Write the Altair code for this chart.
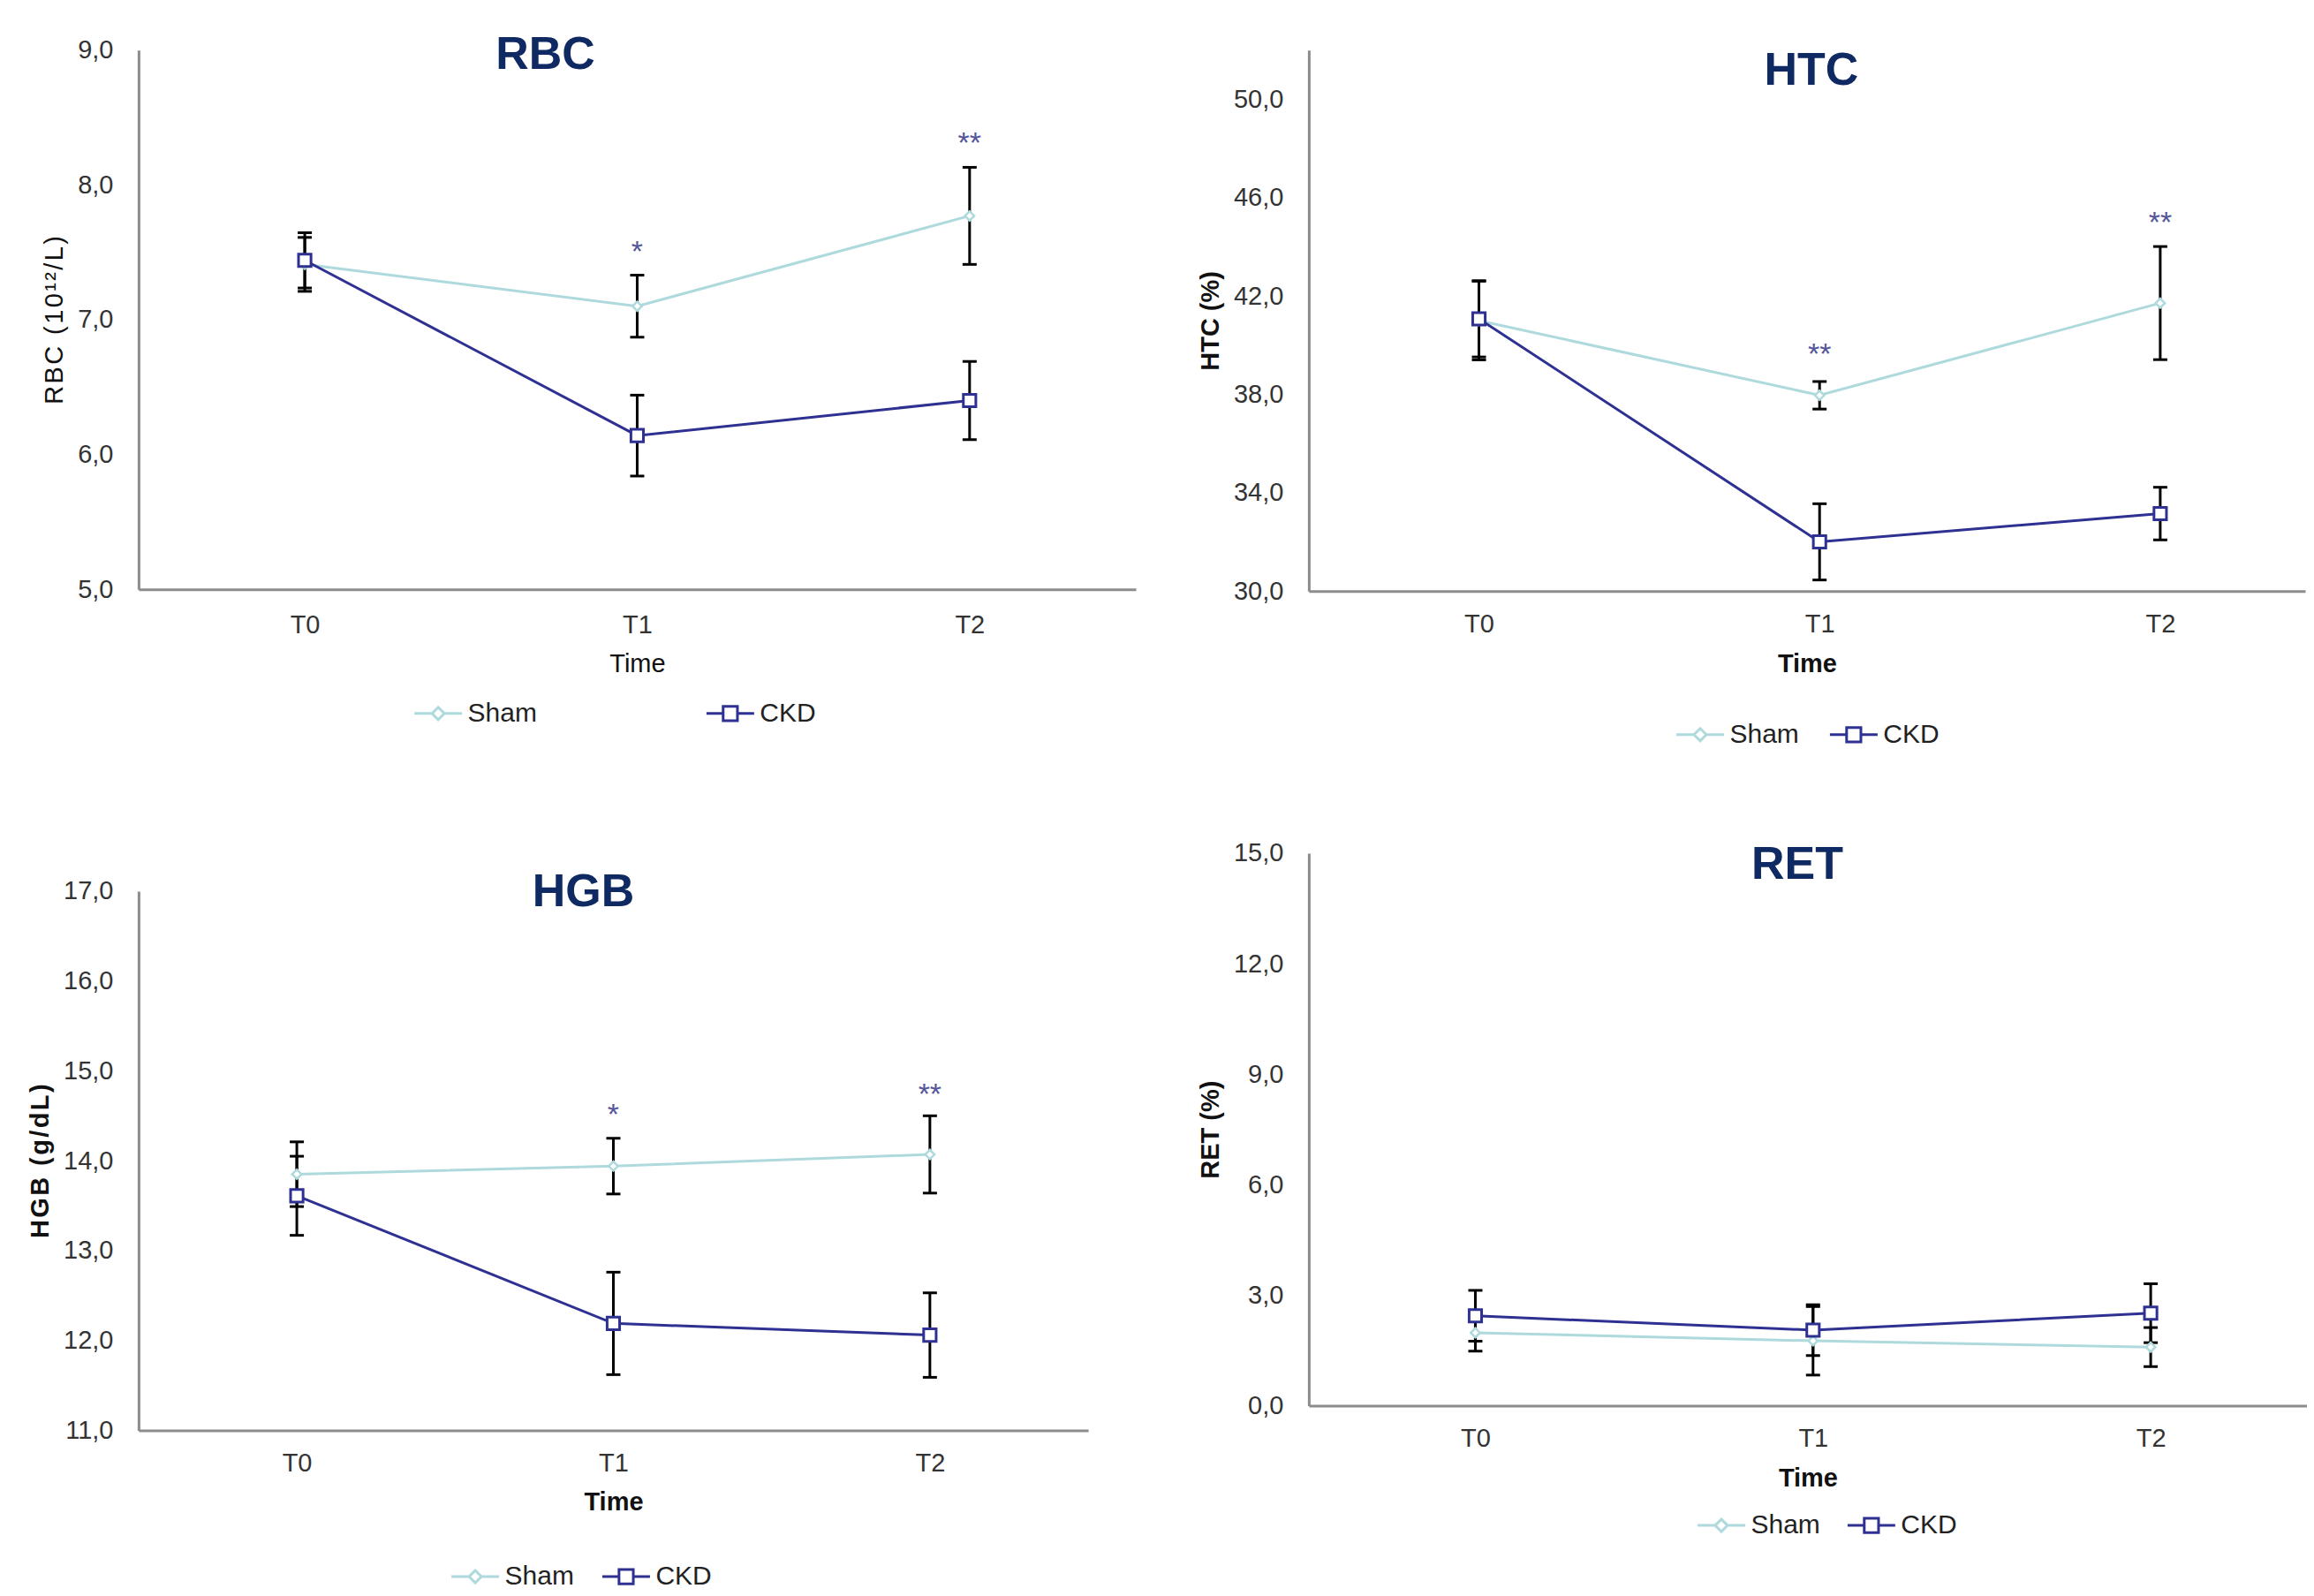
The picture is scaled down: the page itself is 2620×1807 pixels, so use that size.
import altair as alt
import pandas as pd

times = ["T0", "T1", "T2"]
groups = ["Sham", "CKD"]

rbc_sham = [7.41, 7.10, 7.77]
rbc_sham_err = [0.20, 0.23, 0.36]
rbc_ckd = [7.44, 6.14, 6.40]
rbc_ckd_err = [0.205, 0.30, 0.29]
rbc_stars = ["", "*", "**"]
rbc_star_y = [7.5, 7.50, 8.30]

htc_sham = [41.0, 37.96, 41.71]
htc_sham_err = [1.6, 0.56, 2.3]
htc_ckd = [41.07, 32.0, 33.15]
htc_ckd_err = [1.55, 1.55, 1.07]
htc_stars = ["", "**", "**"]
htc_star_y = [42.0, 39.6, 44.95]

hgb_sham = [13.85, 13.94, 14.07]
hgb_sham_err = [0.36, 0.31, 0.43]
hgb_ckd = [13.61, 12.19, 12.06]
hgb_ckd_err = [0.44, 0.57, 0.47]
hgb_stars = ["", "*", "**"]
hgb_star_y = [14.0, 14.50, 14.73]

ret_sham = [1.98, 1.76, 1.59]
ret_sham_err = [0.50, 0.93, 0.53]
ret_ckd = [2.44, 2.05, 2.51]
ret_ckd_err = [0.69, 0.69, 0.80]
ret_stars = ["", "", ""]
ret_star_y = [3.0, 3.0, 3.0]

SHAM_C = "#aedadd"
CKD_C = "#2e3192"
NAVY = "#0f2a62"
STAR_C = "#55559a"
FONT = "Liberation Sans"
HS = "\u200a"

SHAM_PATH = "M-1,0L-0.26,0M0.26,0L1,0M0,-0.26L0.26,0L0,0.26L-0.26,0Z"
CKD_PATH = "M-1,0L-0.3,0M0.3,0L1,0M-0.3,-0.3L0.3,-0.3L0.3,0.3L-0.3,0.3Z"


def spaced(s):
    return HS.join(list(s))


def panel(name, ytitle, sham, sham_err, ckd, ckd_err, stars, star_y,
          domain, ticks, width, height, pad, align, bold,
          title_dx, title_dy, leg_x, leg_y, leg_gap, xlab_pad, xtitle_pad):
    rows = []
    for g, vals, errs in (("Sham", sham, sham_err), ("CKD", ckd, ckd_err)):
        for t, v, e in zip(times, vals, errs):
            rows.append({"time": t, "group": g, "mean": v, "lo": v - e, "hi": v + e})
    df = pd.DataFrame(rows)
    sdf = pd.DataFrame({"time": times, "star": stars, "y": star_y})
    sdf = sdf[sdf["star"] != ""]

    weight = "bold" if bold else "normal"
    xscale = alt.Scale(type="point", domain=times, padding=pad, align=align)
    yscale = alt.Scale(domain=domain, nice=False, zero=False)
    xaxis = alt.Axis(title="Time", labelAngle=0, labelPadding=xlab_pad,
                     titlePadding=xtitle_pad, titleFontWeight=weight)
    yaxis = alt.Axis(title=ytitle, values=ticks, titleFontWeight=weight,
                     labelExpr="replace(format(datum.value, '.1f'), '.', ',')")
    legend = alt.Legend(
        title=None, orient="none", legendX=leg_x, legendY=leg_y,
        direction="horizontal", columnPadding=leg_gap, padding=0,
        symbolSize=2916, symbolStrokeWidth=3, labelOffset=5,
        symbolFillColor="white", symbolOpacity=1,
        labelFont=FONT, labelFontSize=30, labelColor="#222222",
    )
    cscale = alt.Scale(domain=groups, range=[SHAM_C, CKD_C])
    color = alt.Color("group:N", scale=cscale, legend=legend)
    x = alt.X("time:N", scale=xscale, axis=xaxis)
    base = alt.Chart(df)
    lines = base.mark_line(strokeWidth=3).encode(
        x=x, y=alt.Y("mean:Q", scale=yscale, axis=yaxis), color=color,
        order=alt.Order("time:N"))
    key = base.transform_filter("false").mark_point(filled=False, strokeWidth=3).encode(
        x=x, y=alt.Y("mean:Q", scale=yscale), color=color,
        shape=alt.Shape("group:N", scale=alt.Scale(domain=groups, range=[SHAM_PATH, CKD_PATH]),
                        legend=legend))
    rules = base.mark_rule(color="black", strokeWidth=3).encode(
        x=x, y=alt.Y("lo:Q", scale=yscale), y2="hi:Q")
    cap_lo = base.mark_tick(color="black", size=16, thickness=3, opacity=1).encode(
        x=x, y=alt.Y("lo:Q", scale=yscale))
    cap_hi = base.mark_tick(color="black", size=16, thickness=3, opacity=1).encode(
        x=x, y=alt.Y("hi:Q", scale=yscale))
    pts_sham = base.transform_filter("datum.group === 'Sham'").mark_point(
        shape="diamond", size=110, filled=False, fill="white", fillOpacity=1,
        stroke=SHAM_C, strokeWidth=2.5, opacity=1).encode(
        x=x, y=alt.Y("mean:Q", scale=yscale))
    pts_ckd = base.transform_filter("datum.group === 'CKD'").mark_point(
        shape="square", size=200, filled=False, fill="white", fillOpacity=1,
        stroke=CKD_C, strokeWidth=3, opacity=1).encode(
        x=x, y=alt.Y("mean:Q", scale=yscale))
    layers = [lines, key, rules, cap_lo, cap_hi, pts_sham, pts_ckd]
    if len(sdf):
        txt = alt.Chart(sdf).mark_text(font=FONT, fontSize=34, color=STAR_C,
                                       baseline="middle", align="center").encode(
            x=x, y=alt.Y("y:Q", scale=yscale), text="star:N")
        layers.append(txt)
    return alt.layer(*layers).properties(
        width=width, height=height,
        title=alt.TitleParams(text=name, font=FONT, fontSize=52, fontWeight="bold",
                              color=NAVY, anchor="middle", dx=title_dx, dy=title_dy,
                              offset=0, baseline="alphabetic"),
    )


p1 = panel("RBC", spaced("RBC (10¹²/L)"), rbc_sham, rbc_sham_err, rbc_ckd, rbc_ckd_err,
           rbc_stars, rbc_star_y, [5, 9], [5, 6, 7, 8, 9], 1130, 611, 0.5, 0.5, False,
           -104, 87, 311, 723, 185, 26, 15)
p2 = panel("HTC", "HTC (%)", htc_sham, htc_sham_err, htc_ckd, htc_ckd_err,
           htc_stars, htc_star_y, [30, 52], [30, 34, 38, 42, 46, 50], 1129, 613, 0.4625, 0.54, True,
           5, 91, 415, 747, 28, 23, 16)
p3 = panel("HGB", spaced("HGB (g/dL)"), hgb_sham, hgb_sham_err, hgb_ckd, hgb_ckd_err,
           hgb_stars, hgb_star_y, [11, 17], [11, 12, 13, 14, 15, 16, 17], 1076, 611, 0.5, 0.5, True,
           -34, 83, 353, 748, 25, 23, 15)
p4 = panel("RET", "RET (%)", ret_sham, ret_sham_err, ret_ckd, ret_ckd_err,
           ret_stars, ret_star_y, [0, 15], [0, 3, 6, 9, 12, 15], 1131, 626, 0.478, 0.516, True,
           -12, 95, 439, 733, 24, 23, 16)

ind = dict(x="independent", y="independent", color="independent",
           shape="independent")
col1 = alt.vconcat(p1, p3, spacing=161).resolve_scale(**ind).resolve_legend(
    color="independent", shape="independent")
col2 = alt.vconcat(p2, p4, spacing=105).resolve_scale(**ind).resolve_legend(
    color="independent", shape="independent")
chart = alt.hconcat(col1, col2, spacing=70).resolve_scale(**ind).resolve_legend(
    color="independent", shape="independent").properties(
    padding={"left": 23, "top": 27, "right": 0, "bottom": 0},
    background="white",
).configure_view(stroke=None).configure_axis(
    domainColor="#8c8c8c", domainWidth=3, ticks=False, tickSize=0, grid=False,
    labelFont=FONT, labelFontSize=29, labelColor="#333333",
    titleFont=FONT, titleFontSize=29, titleColor="#111111",
).configure_axisY(labelPadding=29, titlePadding=11)

chart.save("out.html", embed_options={"renderer": "svg", "actions": False})
